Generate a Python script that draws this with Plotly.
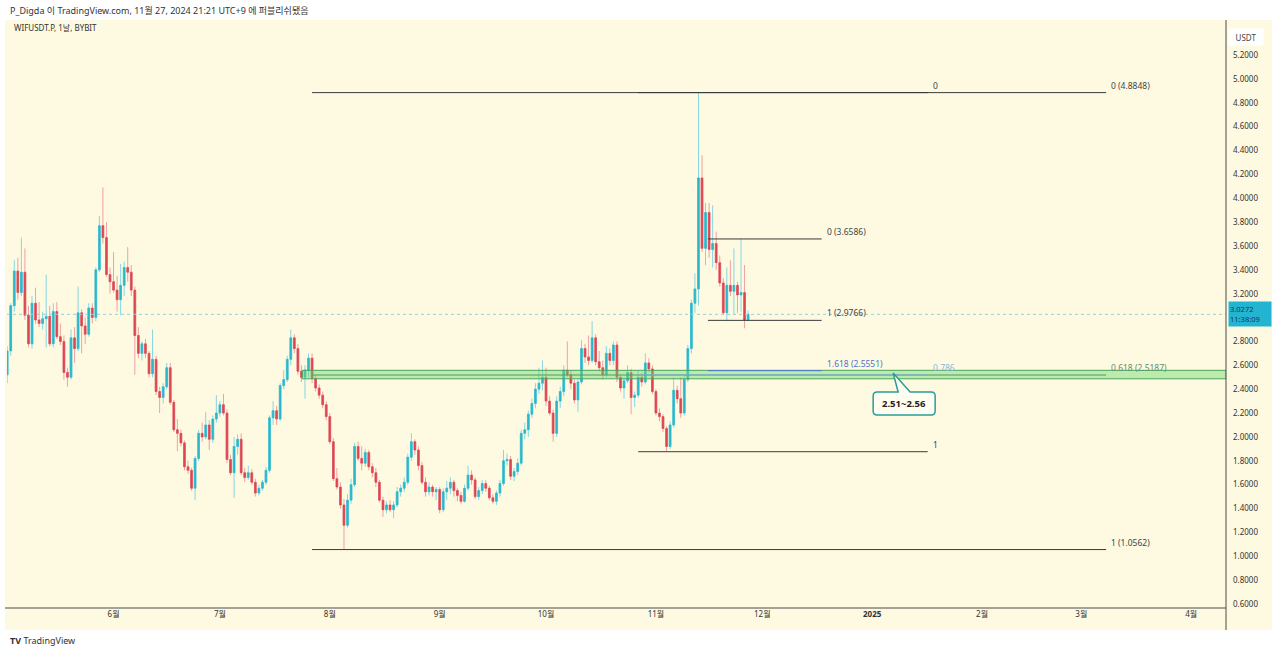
import pandas as pd
import plotly.graph_objects as go

# WIFUSDT.P daily candles, 2024-05-02 .. 2024-11-27
dates = pd.date_range("2024-05-02", periods=210, freq="D")

opens = [
    2.52, 2.72, 3.10, 3.39, 3.21, 3.38, 3.02, 2.78, 3.12, 2.98,
    2.95, 2.99, 3.01, 2.78, 3.05, 2.84, 2.80, 2.54, 2.50, 2.83,
    2.74, 3.04, 2.93, 2.86, 3.08, 3.00, 3.40, 3.77, 3.67, 3.36,
    3.30, 3.23, 3.15, 3.27, 3.42, 3.38, 3.23, 2.85, 2.70, 2.78,
    2.70, 2.53, 2.65, 2.38, 2.33, 2.42, 2.58, 2.29, 2.06, 2.03,
    1.95, 1.75, 1.72, 1.57, 1.82, 2.03, 2.00, 2.10, 1.98, 2.15,
    2.20, 2.27, 2.20, 1.81, 1.70, 1.92, 1.98, 1.70, 1.66, 1.70,
    1.62, 1.53, 1.57, 1.62, 1.72, 2.16, 2.22, 2.15, 2.43, 2.48,
    2.65, 2.83, 2.74, 2.55, 2.50, 2.56, 2.66, 2.49, 2.41, 2.35,
    2.27, 2.17, 1.96, 1.65, 1.58, 1.43, 1.26, 1.47, 1.60, 1.92,
    1.82, 1.78, 1.87, 1.75, 1.70, 1.62, 1.47, 1.39, 1.43, 1.39,
    1.43, 1.54, 1.57, 1.62, 1.83, 1.96, 1.89, 1.76, 1.62, 1.54,
    1.58, 1.54, 1.56, 1.39, 1.54, 1.57, 1.62, 1.55, 1.51, 1.46,
    1.57, 1.68, 1.64, 1.50, 1.55, 1.61, 1.57, 1.49, 1.46, 1.53,
    1.61, 1.80, 1.81, 1.67, 1.71, 1.78, 2.03, 2.06, 2.19, 2.28,
    2.40, 2.45, 2.50, 2.30, 2.20, 2.03, 2.30, 2.38, 2.56, 2.52,
    2.45, 2.31, 2.46, 2.74, 2.67, 2.64, 2.83, 2.63, 2.58, 2.52,
    2.70, 2.64, 2.77, 2.50, 2.41, 2.47, 2.54, 2.33, 2.35, 2.50,
    2.46, 2.62, 2.57, 2.38, 2.20, 2.17, 2.07, 1.92, 2.10, 2.39,
    2.32, 2.20, 2.48, 2.74, 3.12, 3.24, 4.17, 3.58, 3.88, 3.57,
    3.62, 3.46, 3.29, 3.04, 3.27, 3.22, 3.27, 3.19, 3.21, 2.98,
]
highs = [
    2.76, 3.12, 3.48, 3.50, 3.67, 3.58, 3.10, 3.18, 3.25, 3.13,
    3.05, 3.36, 3.10, 3.12, 3.13, 2.95, 2.85, 2.58, 2.90, 2.92,
    3.26, 3.07, 3.00, 3.12, 3.12, 3.42, 3.85, 4.09, 3.80, 3.42,
    3.55, 3.35, 3.45, 3.47, 3.59, 3.44, 3.26, 2.92, 2.80, 2.82,
    2.72, 2.90, 2.68, 2.42, 2.45, 2.62, 2.62, 2.31, 2.15, 2.06,
    1.97, 1.80, 1.74, 1.84, 2.06, 2.12, 2.21, 2.14, 2.18, 2.35,
    2.30, 2.36, 2.23, 1.85, 2.00, 2.02, 2.03, 1.74, 1.76, 1.73,
    1.65, 1.60, 1.64, 1.75, 2.18, 2.30, 2.26, 2.45, 2.56, 2.68,
    2.90, 2.86, 2.78, 2.60, 2.60, 2.70, 2.70, 2.52, 2.44, 2.38,
    2.30, 2.20, 1.99, 1.74, 1.62, 1.48, 1.52, 1.65, 1.95, 1.96,
    1.92, 1.90, 1.89, 1.78, 1.74, 1.64, 1.50, 1.46, 1.47, 1.46,
    1.58, 1.60, 1.66, 1.86, 2.03, 1.98, 1.92, 1.79, 1.66, 1.62,
    1.60, 1.58, 1.58, 1.57, 1.63, 1.66, 1.64, 1.57, 1.54, 1.60,
    1.76, 1.72, 1.66, 1.58, 1.64, 1.64, 1.59, 1.52, 1.55, 1.64,
    1.89, 1.86, 1.84, 1.74, 1.82, 2.06, 2.12, 2.22, 2.32, 2.45,
    2.58, 2.64, 2.58, 2.34, 2.23, 2.34, 2.42, 2.60, 2.80, 2.56,
    2.48, 2.48, 2.81, 2.78, 2.85, 2.97, 2.86, 2.72, 2.64, 2.76,
    2.74, 2.80, 2.80, 2.52, 2.50, 2.60, 2.57, 2.38, 2.56, 2.54,
    2.70, 2.66, 2.60, 2.40, 2.24, 2.19, 2.09, 2.13, 2.50, 2.43,
    2.50, 2.52, 2.77, 3.15, 3.37, 4.8848, 4.36, 3.96, 3.96, 3.94,
    3.72, 3.52, 3.33, 3.42, 3.48, 3.58, 3.30, 3.6586, 3.44, 3.06,
]
lows = [
    2.45, 2.68, 3.05, 3.15, 3.18, 2.98, 2.75, 2.74, 2.95, 2.92,
    2.90, 2.75, 2.76, 2.75, 2.82, 2.77, 2.48, 2.42, 2.48, 2.62,
    2.72, 2.70, 2.78, 2.84, 2.95, 2.97, 3.38, 3.62, 3.34, 3.20,
    3.21, 3.05, 3.02, 3.18, 3.30, 3.18, 2.52, 2.66, 2.64, 2.66,
    2.50, 2.50, 2.35, 2.20, 2.28, 2.40, 2.27, 2.04, 1.88, 1.92,
    1.72, 1.69, 1.55, 1.47, 1.80, 1.96, 1.98, 1.89, 1.95, 2.12,
    2.17, 2.18, 1.78, 1.68, 1.49, 1.85, 1.68, 1.62, 1.64, 1.60,
    1.50, 1.51, 1.55, 1.60, 1.70, 2.10, 2.10, 2.13, 2.40, 2.46,
    2.60, 2.70, 2.52, 2.46, 2.32, 2.50, 2.45, 2.38, 2.32, 2.24,
    2.14, 1.94, 1.63, 1.56, 1.40, 1.0562, 1.24, 1.44, 1.58, 1.80,
    1.72, 1.75, 1.72, 1.66, 1.58, 1.45, 1.33, 1.36, 1.37, 1.32,
    1.41, 1.50, 1.54, 1.60, 1.80, 1.85, 1.72, 1.60, 1.50, 1.51,
    1.50, 1.47, 1.36, 1.37, 1.47, 1.52, 1.50, 1.46, 1.44, 1.45,
    1.55, 1.60, 1.48, 1.47, 1.52, 1.54, 1.47, 1.44, 1.43, 1.50,
    1.59, 1.76, 1.64, 1.63, 1.68, 1.76, 1.98, 2.00, 2.16, 2.24,
    2.36, 2.39, 2.26, 2.18, 1.96, 2.00, 2.24, 2.34, 2.50, 2.40,
    2.28, 2.21, 2.44, 2.62, 2.60, 2.62, 2.60, 2.55, 2.48, 2.50,
    2.60, 2.60, 2.46, 2.38, 2.32, 2.45, 2.19, 2.25, 2.33, 2.42,
    2.44, 2.54, 2.36, 2.18, 2.13, 2.04, 1.876, 1.90, 2.08, 2.28,
    2.16, 2.18, 2.46, 2.70, 3.04, 3.10, 3.55, 3.44, 3.50, 3.42,
    3.40, 3.26, 3.02, 2.97, 3.18, 3.03, 3.04, 3.05, 2.91, 2.97,
]
closes = opens[1:] + [3.0272]

last_price = 3.0272
countdown = "11:38:09"

# month ticks of the time scale
month_ticks = ["2024-06-01", "2024-07-01", "2024-08-01", "2024-09-01", "2024-10-01",
               "2024-11-01", "2024-12-01", "2025-01-01", "2025-02-01", "2025-03-01",
               "2025-04-01"]
month_labels = ["6월", "7월", "8월", "9월", "10월", "11월", "12월", "<b>2025</b>",
                "2월", "3월", "4월"]
# 3.0000 sits under the last-price tag, so it is not listed
price_ticks = [0.6, 0.8, 1.0, 1.2, 1.4, 1.6, 1.8, 2.0, 2.2, 2.4, 2.6, 2.8,
               3.2, 3.4, 3.6, 3.8, 4.0, 4.2, 4.4, 4.6, 4.8, 5.0, 5.2]

# drawings: fib retracements (start, end, levels) and the support zone
fib_big = ("2024-07-27", "2025-03-08", 4.8848, 1.0562)
fib_mid = ("2024-10-27", "2025-01-16 16:00", 4.8848, 1.876)
fib_small = ("2024-11-15 16:00", "2024-12-17 18:00", 3.6586, 2.9766)
zone = ("2024-07-24 05:00", 2.487, 2.558)
zone_text = "2.51~2.56"
zone_tip = ("2025-01-06 22:00", 2.535)

X_RANGE = ["2024-05-01 22:39", "2025-04-10 19:27"]
Y_RANGE = [0.5665, 5.4932]

CREAM = "#fefae1"
UP, DOWN = "#2ab8cb", "#dc4650"
UP_WICK, DOWN_WICK = "#86d6e0", "#efa0a3"
FONT = "Noto Sans, Noto Sans CJK KR, sans-serif"

body_hi = [max(o, c) for o, c in zip(opens, closes)]
body_lo = [min(o, c) for o, c in zip(opens, closes)]

fig = go.Figure()

# wicks (lighter), then solid bodies on top
fig.add_trace(go.Candlestick(
    x=dates, open=opens, high=highs, low=lows, close=closes,
    increasing=dict(line=dict(color=UP_WICK, width=1), fillcolor=UP_WICK),
    decreasing=dict(line=dict(color=DOWN_WICK, width=1), fillcolor=DOWN_WICK),
    whiskerwidth=0, hoverinfo="skip", showlegend=False,
))
fig.add_trace(go.Candlestick(
    x=dates, open=opens, high=body_hi, low=body_lo, close=closes,
    increasing=dict(line=dict(color=UP, width=0.5), fillcolor=UP),
    decreasing=dict(line=dict(color=DOWN, width=0.5), fillcolor=DOWN),
    whiskerwidth=0, showlegend=False,
))

shapes = []
annotations = []


def level(x0, x1, y, color, width=1):
    shapes.append(dict(type="line", xref="x", yref="y", x0=x0, x1=x1, y0=y, y1=y,
                       line=dict(color=color, width=width)))


def level_label(x, y, text, color):
    annotations.append(dict(x=x, y=y, xref="x", yref="y", text=text, showarrow=False,
                            xanchor="left", yanchor="bottom", xshift=3, yshift=0,
                            font=dict(size=8.5, color=color, family=FONT)))


# cream panel behind everything
shapes.append(dict(type="rect", xref="paper", yref="paper", x0=-0.0016, x1=1.0377,
                   y0=-0.0374, y1=1.0, fillcolor=CREAM, line=dict(width=0), layer="below"))

# support zone
shapes.append(dict(type="rect", xref="x", yref="y", x0=zone[0], x1=X_RANGE[1],
                   y0=zone[1], y1=zone[2], fillcolor="rgba(110,214,110,0.45)",
                   line=dict(color="#4aa35a", width=1)))

# big fib
s, e, top, bot = fib_big
lvl618 = top - 0.618 * (top - bot)
level(s, e, top, "#3a3a3a")
level(s, e, bot, "#3a3a3a")
level(s, e, lvl618, "#4f9a66")
level_label(e, top, "0 (4.8848)", "#444")
level_label(e, bot, "1 (1.0562)", "#444")
level_label(e, lvl618, "0.618 (2.5187)", "#5e8f6c")

# middle fib
s, e, top, bot = fib_mid
lvl786 = top - 0.786 * (top - bot)
level(s, e, top, "#3a3a3a")
level(s, e, bot, "#3a3a3a")
level(s, e, lvl786, "#7ab3d6")
level_label(e, top, "0", "#444")
level_label(e, bot, "1", "#444")
level_label(e, lvl786, "0.786", "#86b8dc")

# small fib
s, e, top, bot = fib_small
lvl1618 = top - 1.618 * (top - bot)
level(s, e, top, "#3a3a3a")
level(s, e, bot, "#3a3a3a")
level(s, e, lvl1618, "#4d72cf")
level_label(e, top, "0 (3.6586)", "#444")
level_label(e, bot, "1 (2.9766)", "#444")
level_label(e, lvl1618, "1.618 (2.5551)", "#4d72cf")

# callout bubble pointing at the zone
shapes.append(dict(
    type="path", xref="x", yref="y", xsizemode="pixel", ysizemode="pixel",
    xanchor=zone_tip[0], yanchor=zone_tip[1],
    path=("M 0,0 L 5,-19 L -16,-19 Q -20,-19 -20,-23 L -20,-38 Q -20,-42 -16,-42 "
          "L 38,-42 Q 42,-42 42,-38 L 42,-23 Q 42,-19 38,-19 L 17,-19 Z"),
    fillcolor="#fffdf0", line=dict(color="#2a9d9a", width=1.5)))
annotations.append(dict(x=zone_tip[0], y=zone_tip[1], xref="x", yref="y",
                        text="<b>" + zone_text + "</b>", showarrow=False,
                        xshift=11, yshift=-30.5,
                        font=dict(size=9.5, color="#222", family=FONT)))

# last price dotted line
shapes.append(dict(type="line", xref="paper", yref="y", x0=0, x1=1,
                   y0=last_price, y1=last_price,
                   line=dict(color="#8fd3dd", width=1, dash="dot")))

# frame lines
shapes.append(dict(type="line", xref="paper", yref="paper", x0=1, x1=1, y0=-0.0374, y1=1,
                   line=dict(color="#4a4a4a", width=1)))
shapes.append(dict(type="line", xref="paper", yref="paper", x0=-0.0016, x1=1, y0=0, y1=0,
                   line=dict(color="#4a4a4a", width=1)))

# price axis extras
annotations.append(dict(x=1.0017, y=last_price, xref="paper", yref="y", xanchor="left",
                        text=f"{last_price:.4f}<br>{countdown}", showarrow=False,
                        bgcolor="#22b4d0", width=40, height=22, align="left",
                        font=dict(size=7.5, color="#173a55", family=FONT)))
annotations.append(dict(x=1.0017, y=0.9864, xref="paper", yref="paper", xanchor="left",
                        text="USDT", showarrow=False, bgcolor="#ffffff", width=32, height=14,
                        font=dict(size=8, color="#444", family=FONT)))

# header, symbol legend, logo
annotations.append(dict(x=0.0008, y=1.017, xref="paper", yref="paper", xanchor="left",
                        yanchor="middle", showarrow=False,
                        text="P_Digda 이 TradingView.com, 11월 27, 2024 21:21 UTC+9 에 퍼블리쉬됐음",
                        font=dict(size=9, color="#333", family=FONT)))
annotations.append(dict(x=0.0041, y=0.9864, xref="paper", yref="paper", xanchor="left",
                        yanchor="middle", showarrow=False, text="WIFUSDT.P, 1날, BYBIT",
                        font=dict(size=8, color="#333", family=FONT)))
annotations.append(dict(x=0.0008, y=-0.0561, xref="paper", yref="paper", xanchor="left",
                        yanchor="middle", showarrow=False,
                        text="<b>TV</b> TradingView",
                        font=dict(size=9, color="#333", family=FONT)))

fig.update_layout(
    width=1280, height=654,
    margin=dict(l=7, r=54, t=20, b=46),
    paper_bgcolor="#ffffff",
    plot_bgcolor=CREAM,
    font=dict(family=FONT, size=8, color="#333"),
    shapes=shapes,
    annotations=annotations,
    showlegend=False,
    xaxis=dict(
        type="date", range=X_RANGE, rangeslider=dict(visible=False),
        tickmode="array", tickvals=month_ticks, ticktext=month_labels,
        showgrid=False, zeroline=False, showline=False, ticks="",
        tickfont=dict(size=8, color="#333"),
    ),
    yaxis=dict(
        side="right", range=Y_RANGE, tickmode="array", tickvals=price_ticks,
        tickformat=".4f", showgrid=False, zeroline=False, showline=False, ticks="",
        ticklabelstandoff=6, tickfont=dict(size=8, color="#333"),
    ),
)

# the page's default body margin would shift the fixed-size figure
fig.write_html("out.html", config={"displayModeBar": False},
               post_script="document.body.style.margin='0';")
